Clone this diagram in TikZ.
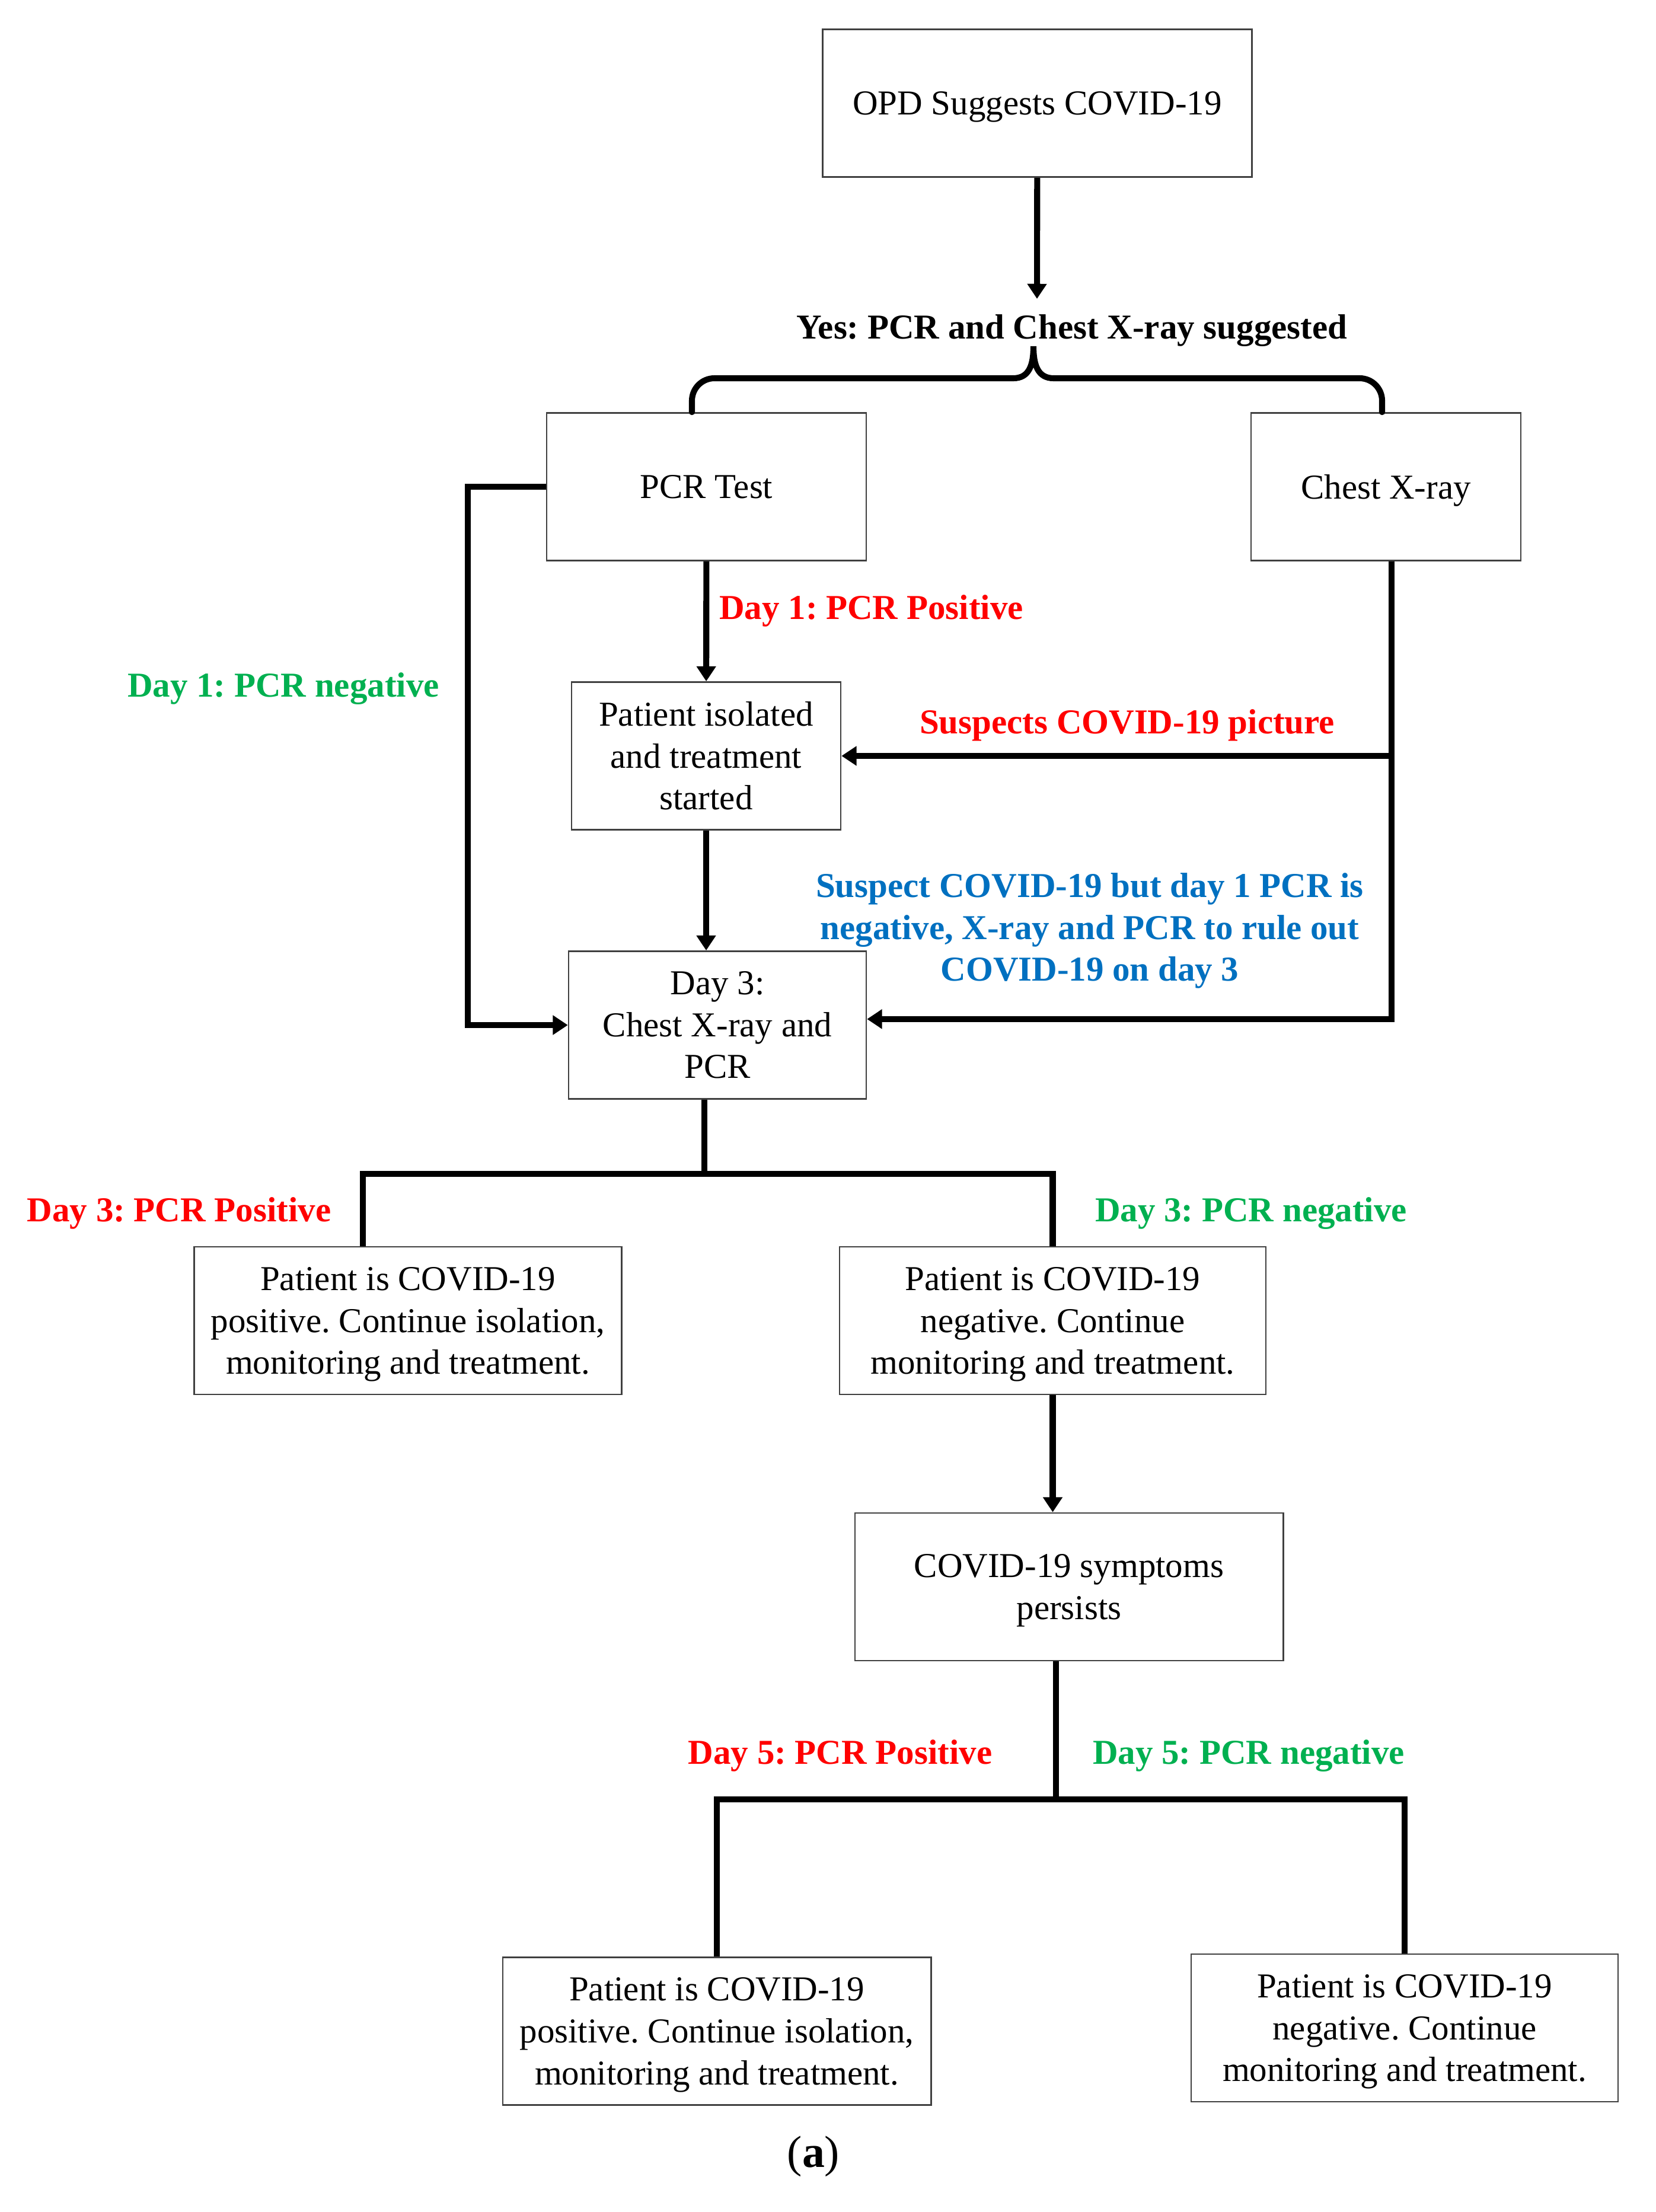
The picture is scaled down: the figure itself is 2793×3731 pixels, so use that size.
\documentclass[tikz,border=0pt]{standalone}
\usepackage{fontspec}
\setmainfont{Liberation Serif}
\usetikzlibrary{arrows.meta}
\definecolor{posred}{HTML}{FF0000}
\definecolor{neggreen}{HTML}{00B050}
\definecolor{noteblue}{HTML}{0070C0}
\newcommand\nodesc[1]{\raisebox{0pt}[\height][0pt]{#1}}
\frenchspacing
\begin{document}
\begin{tikzpicture}[x=0.0083495cm,y=-0.0083495cm,
    line/.style={line width=2.4pt},
    flow/.style={line width=2.4pt,-{Triangle[length=6pt,width=7.5pt]}}]

      \useasboundingbox (0,0) rectangle (2793,3731);

      \begin{scope}[every node/.style={draw=black!75,line width=0.6pt,minimum height=2.08cm,
          inner sep=0pt,align=center,font=\fontsize{14}{16.8}\selectfont}]
        \node[minimum width=6.04cm] (opd)  at (1749.5,174)  {\nodesc{OPD Suggests COVID-19}};
        \node[minimum width=4.50cm] (pcr)  at (1191.5,821)  {PCR Test};
        \node[minimum width=3.80cm] (xray) at (2337.5,821)  {\nodesc{Chest X-ray}};
        \node[minimum width=3.79cm] (iso)  at (1191,1275)   {Patient isolated\\and treatment\\started};
        \node[minimum width=4.19cm] (day3) at (1210,1729)   {Day 3:\\Chest X-ray and\\PCR};
        \node[minimum width=6.02cm] (pos3) at (688,2227.5)  {Patient is COVID-19\\positive. Continue isolation,\\\nodesc{monitoring and treatment.}};
        \node[minimum width=6.00cm] (neg3) at (1775.5,2227.5) {Patient is COVID-19\\negative. Continue\\\nodesc{monitoring and treatment.}};
        \node[minimum width=6.03cm] (symp) at (1803,2676.5) {COVID-19 symptoms\\\nodesc{persists}};
        \node[minimum width=6.03cm] (pos5) at (1209,3426)   {Patient is COVID-19\\positive. Continue isolation,\\\nodesc{monitoring and treatment.}};
        \node[minimum width=6.01cm] (neg5) at (2369,3420.5) {Patient is COVID-19\\negative. Continue\\\nodesc{monitoring and treatment.}};
      \end{scope}

      \begin{scope}[every node/.style={align=center,font=\bfseries\fontsize{14}{16.8}\selectfont,
          execute at begin node={\rule{0pt}{12.7pt}},
          execute at end node={\rule[-3.5pt]{0pt}{3.5pt}}}]
        \node (yes)   at (1808,552)  {Yes: PCR and Chest X-ray suggested};
        \node[text=posred]   (d1pos) at (1469.5,1025) {Day 1: PCR Positive};
        \node[text=neggreen] (d1neg) at (478,1156)    {Day 1: PCR negative};
        \node[text=posred]   (susp)  at (1901,1218)   {Suspects COVID-19 picture};
        \node[text=noteblue,execute at begin node={},execute at end node={}] (rule) at (1838,1571)
          {Suspect COVID-19 but day 1 PCR is\\negative, X-ray and PCR to rule out\\COVID-19 on day 3};
        \node[text=posred]   (d3pos) at (302,2041)    {Day 3: PCR Positive};
        \node[text=neggreen] (d3neg) at (2110,2041)   {Day 3: PCR negative};
        \node[text=posred]   (d5pos) at (1417,2956)   {Day 5: PCR Positive};
        \node[text=neggreen] (d5neg) at (2106,2956)   {Day 5: PCR negative};
      \end{scope}

      \node[font=\fontsize{18}{21}\selectfont] (cap) at (1372,3637) {(\textbf{a})};

      % turning points
      \coordinate (yestip) at (1749,504);
      \coordinate (cusp) at (1743,584);
      \coordinate (bl) at (1167,638);
      \coordinate (cl) at (1709,638);
      \coordinate (cr) at (1777,638);
      \coordinate (br) at (2331,638);
      \coordinate (negx) at (789,1200);
      \coordinate (xrx) at (2347,1000);
      \coordinate (b3) at (1188,1980);
      \coordinate (b3l) at (612,1980);
      \coordinate (b5) at (1781,3035);

      \begin{scope}[every edge/.style={draw,flow}]
        \path (opd) edge (yestip);
        \path (pcr) edge (iso);
        \path (iso) edge (iso.south |- day3.north);
        \path (neg3) edge (neg3.south |- symp.north);
      \end{scope}

      % brace under the yes label
      \draw[line,line cap=round,rounded corners=9pt] (pcr.north -| bl) |- (cl);
      \draw[line,line cap=round] (cl) .. controls (1736,638) and (1743,615) .. (cusp)
        .. controls (1743,615) and (1750,638) .. (cr);
      \draw[line,line cap=round,rounded corners=9pt] (cr) -| (xray.north -| br);

      \draw[flow] (pcr.west) -| (negx) |- (day3.west);
      \draw[flow] (xray.south -| xrx) |- (iso.east);
      \draw[flow] (iso.east -| xrx) |- ([yshift=2.4pt]day3.east);

      \draw[line] (day3.south -| b3) -- (b3);
      \draw[line] (pos3.north -| b3l) |- (b3) -| (neg3.north);
      \draw[line] (symp.south -| b5) -- (b5);
      \draw[line] (pos5.north) |- (b5) -| (neg5.north);

    \end{tikzpicture}
\end{document}
